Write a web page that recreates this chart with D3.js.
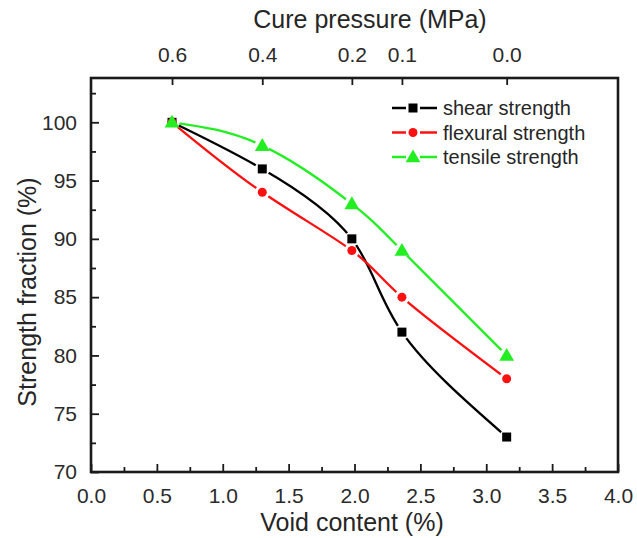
<!DOCTYPE html>
<html><head><meta charset="utf-8">
<script src="https://cdn.jsdelivr.net/npm/d3@7"></script>
<style>body{margin:0;background:#fff}svg{display:block}text{font-family:"Liberation Sans",Arial,sans-serif;fill:#262626}</style>
</head><body><svg id="c" width="637" height="538"></svg>
<script>
const voidContent = [0.615, 1.30, 1.98, 2.36, 3.155];
const pressureLabels = ["0.6", "0.4", "0.2", "0.1", "0.0"];
const shear = [100, 96, 90, 82, 73];
const flexural = [100, 94, 89, 85, 78];
const tensile = [100, 98, 93, 89, 80];
const seriesNames = ["shear strength", "flexural strength", "tensile strength"];
const xTicks = [0, 0.5, 1, 1.5, 2, 2.5, 3, 3.5, 4];
const yTicks = [70, 75, 80, 85, 90, 95, 100];

const svg = d3.select("#c");
const L = 91, R = 618, T = 78, B = 472;
const x = d3.scaleLinear().domain([0, 4]).range([L, R]);
const y = d3.scaleLinear().domain([70, 103.8]).range([B, T]);

const series = [
  {name: seriesNames[0], vals: shear, color: "#000", marker: "square"},
  {name: seriesNames[1], vals: flexural, color: "#ff1010", marker: "circle"},
  {name: seriesNames[2], vals: tensile, color: "#22ee22", marker: "triangle"}
];

function drawMarker(g, type, cx, cy, color) {
  if (type === "square") g.append("rect").attr("x", cx - 4.5).attr("y", cy - 4.5).attr("width", 9).attr("height", 9).attr("fill", color);
  else if (type === "circle") g.append("circle").attr("cx", cx).attr("cy", cy).attr("r", 4.5).attr("fill", color);
  else g.append("path").attr("d", d3.symbol(d3.symbolTriangle, 95)()).attr("transform", `translate(${cx},${cy+1})`).attr("fill", color);
}

const defs = svg.append("defs");
const line = d3.line().x(d => x(d[0])).y(d => y(d[1])).curve(d3.curveNatural);
series.forEach((s, i) => {
  const pts = voidContent.map((v, j) => [v, s.vals[j]]);
  const m = defs.append("mask").attr("id", "m" + i).attr("maskUnits", "userSpaceOnUse")
    .attr("x", 0).attr("y", 0).attr("width", 637).attr("height", 538);
  m.append("rect").attr("width", 637).attr("height", 538).attr("fill", "#fff");
  pts.forEach(p => m.append("circle").attr("cx", x(p[0])).attr("cy", y(p[1])).attr("r", 7.5).attr("fill", "#000"));
  svg.append("path").attr("d", line(pts)).attr("fill", "none").attr("stroke", s.color)
    .attr("stroke-width", 2.3).attr("mask", `url(#m${i})`);
  const g = svg.append("g");
  pts.forEach(p => drawMarker(g, s.marker, x(p[0]), y(p[1]), s.color));
});

// axes
const axStyle = g => { g.selectAll(".domain").remove(); g.selectAll("line").attr("stroke", "#1a1a1a"); g.selectAll("text").attr("font-size", 21).style("fill", "#2a2a2a"); };
svg.append("g").attr("transform", `translate(0,${B})`)
  .call(d3.axisBottom(x).tickValues(xTicks).tickSize(-8).tickPadding(16).tickFormat(d3.format(".1f"))).call(axStyle);
svg.append("g").attr("transform", `translate(0,${B})`)
  .call(d3.axisBottom(x).tickValues(d3.range(0.25, 4, 0.5)).tickSize(-5).tickFormat("")).call(axStyle);
svg.append("g").attr("transform", `translate(${L},0)`)
  .call(d3.axisLeft(y).tickValues(yTicks).tickSize(-8).tickPadding(14)).call(axStyle);
svg.append("g").attr("transform", `translate(${L},0)`)
  .call(d3.axisLeft(y).tickValues([72.5, 77.5, 82.5, 87.5, 92.5, 97.5, 102.5]).tickSize(-5).tickFormat("")).call(axStyle);
svg.append("g").attr("transform", `translate(0,${T})`)
  .call(d3.axisTop(x).tickValues(voidContent).tickSize(-7).tickPadding(16).tickFormat((d, i) => pressureLabels[i])).call(axStyle);
svg.selectAll(".tick line").attr("stroke-width", 1.8);

svg.append("rect").attr("x", L).attr("y", T).attr("width", R - L).attr("height", B - T)
  .attr("fill", "none").attr("stroke", "#1a1a1a").attr("stroke-width", 2.6);

// titles
svg.append("text").attr("x", 352).attr("y", 531).attr("text-anchor", "middle").attr("font-size", 25).text("Void content (%)");
svg.append("text").attr("x", 370).attr("y", 28).attr("text-anchor", "middle").attr("font-size", 25).text("Cure pressure (MPa)");
svg.append("text").attr("transform", "translate(36,292) rotate(-90)").attr("text-anchor", "middle").attr("font-size", 25).text("Strength fraction (%)");

// legend
series.forEach((s, i) => {
  const ly = 108 + i * 24.5;
  const g = svg.append("g");
  g.append("line").attr("x1", 392).attr("x2", 437).attr("y1", ly).attr("y2", ly).attr("stroke", s.color).attr("stroke-width", 2.3);
  g.append("rect").attr("x", 406).attr("y", ly - 5).attr("width", 14).attr("height", 10).attr("fill", "#fff");
  drawMarker(g, s.marker, 413, ly, s.color);
  g.append("text").attr("x", 443).attr("y", ly + 7).attr("font-size", 20).text(s.name);
});
</script></body></html>
